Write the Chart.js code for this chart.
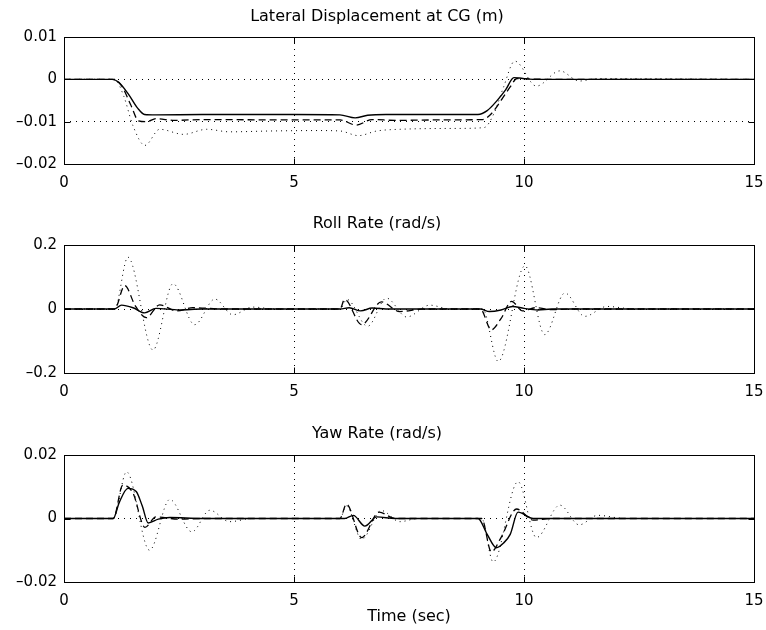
<!DOCTYPE html>
<html>
<head>
<meta charset="utf-8">
<script src="https://cdn.jsdelivr.net/npm/chart.js@4.4.1/dist/chart.umd.min.js"></script>
<style>
  body { margin: 0; background: #fff; }
  .panel { position: absolute; left: 0; width: 766px; height: 210px; }
</style>
</head>
<body>
<div class="panel" style="top:0"><canvas id="latChart" width="766" height="210"></canvas></div>
<div class="panel" style="top:210px"><canvas id="rollChart" width="766" height="210"></canvas></div>
<div class="panel" style="top:420px"><canvas id="yawChart" width="766" height="210"></canvas></div>
<script>
// tick labels
const xTicks = [0, 5, 10, 15];
const latTicks = [-0.02, -0.01, 0, 0.01];
const rollTicks = [-0.2, 0, 0.2];
const yawTicks = [-0.02, 0, 0.02];

// Lateral displacement at CG (m)
const latSolidT = [0, 1.05, 1.2, 1.4, 1.6, 1.75, 2.0, 3, 5, 6.0, 6.33, 6.6, 7, 8, 9.0, 9.2, 9.4, 9.6, 9.78, 9.9, 10.2, 11, 15];
const latSolid = [0, 0, -0.0008, -0.0035, -0.0068, -0.0083, -0.0084, -0.0083, -0.0083, -0.0084, -0.0091, -0.0085, -0.0083, -0.0083, -0.0083, -0.0074, -0.0052, -0.0025, 0.0004, 0.0003, 0, 0, 0];
const latDashT = [0, 1.08, 1.25, 1.45, 1.62, 1.8, 2.0, 2.4, 3, 5, 6.0, 6.35, 6.7, 7.2, 8, 9.1, 9.3, 9.5, 9.7, 9.85, 10.1, 10.5, 15];
const latDash = [0, 0, -0.0015, -0.006, -0.0098, -0.0100, -0.0093, -0.0097, -0.0095, -0.0096, -0.0096, -0.0108, -0.0095, -0.0097, -0.0096, -0.0095, -0.0080, -0.0050, -0.0018, 0.0002, 0.0001, 0, 0];
const latDotT = [0, 1.1, 1.3, 1.5, 1.76, 2.08, 2.6, 3.1, 3.6, 4.5, 5.5, 6.0, 6.4, 6.8, 7.3, 8.5, 9.13, 9.35, 9.55, 9.8, 10.27, 10.78, 11.2, 11.6, 15];
const latDot = [0, 0, -0.004, -0.011, -0.0156, -0.0118, -0.013, -0.0118, -0.0124, -0.0122, -0.0121, -0.0122, -0.0133, -0.0122, -0.0118, -0.0116, -0.0114, -0.008, -0.002, 0.0043, -0.0016, 0.002, -0.0004, 0.0002, 0];

// Roll rate (rad/s)
const rollSolidT = [0, 1.1, 1.25, 1.5, 1.75, 2.0, 2.5, 3, 6.0, 6.2, 6.45, 6.7, 7, 9.05, 9.25, 9.5, 9.75, 10.0, 10.3, 10.6, 15];
const rollSolid = [0, 0, 0.012, 0.004, -0.012, 0.002, -0.003, 0, 0, 0.004, -0.006, 0.003, 0, 0, -0.008, -0.003, 0.008, 0.002, -0.003, 0, 0];
const rollDashT = [0, 1.1, 1.32, 1.55, 1.79, 2.08, 2.45, 2.8, 3.5, 6.0, 6.1, 6.47, 6.9, 7.3, 7.8, 9.05, 9.29, 9.5, 9.73, 9.97, 10.25, 10.6, 11.0, 15];
const rollDash = [0, 0, 0.073, 0.01, -0.027, 0.013, -0.006, 0.004, 0, 0, 0.03, -0.049, 0.022, -0.008, 0, 0, -0.065, -0.03, 0.024, -0.006, 0.004, -0.002, 0, 0];
const rollDotT = [0, 1.1, 1.39, 1.935, 2.37, 2.84, 3.28, 3.67, 4.1, 4.6, 6.0, 6.15, 6.6, 7.01, 7.45, 7.95, 8.4, 9.1, 9.44, 10.02, 10.45, 10.89, 11.32, 11.8, 12.4, 15];
const rollDot = [0, 0, 0.162, -0.128, 0.079, -0.049, 0.031, -0.018, 0.006, 0, 0, 0.03, -0.054, 0.034, -0.025, 0.012, 0, 0, -0.164, 0.135, -0.08, 0.05, -0.023, 0.008, 0, 0];

// Yaw rate (rad/s)
const yawSolidT = [0, 1.07, 1.2, 1.39, 1.57, 1.7, 1.83, 2.05, 2.3, 3, 6.1, 6.29, 6.54, 6.8, 7.2, 9.0, 9.2, 9.4, 9.55, 9.7, 9.87, 10.2, 10.6, 15];
const yawSolid = [0, 0, 0.005, 0.0095, 0.0085, 0.004, -0.0014, -0.0002, 0.0003, 0, 0, 0.001, -0.0024, 0.0005, 0, 0, -0.005, -0.0092, -0.0078, -0.005, 0.002, 0, 0, 0];
const yawDashT = [0, 1.07, 1.28, 1.5, 1.76, 2.0, 2.5, 3, 6.0, 6.14, 6.47, 6.85, 7.2, 9.08, 9.29, 9.5, 9.84, 10.2, 10.6, 15];
const yawDash = [0, 0, 0.0105, 0.008, -0.0028, 0.0005, -0.0002, 0, 0, 0.0045, -0.006, 0.002, 0, 0, -0.0105, -0.006, 0.003, -0.0005, 0, 0];
const yawDotT = [0, 1.07, 1.36, 1.86, 2.3, 2.78, 3.17, 3.6, 4.1, 6.0, 6.14, 6.47, 6.9, 7.3, 7.7, 9.08, 9.33, 9.87, 10.27, 10.78, 11.2, 11.6, 12.2, 15];
const yawDot = [0, 0, 0.0147, -0.01, 0.006, -0.0042, 0.0026, -0.001, 0, 0, 0.004, -0.0066, 0.0025, -0.001, 0, 0, -0.0137, 0.0116, -0.006, 0.0042, -0.002, 0.001, 0, 0];

const FONT = 'DejaVu Sans';

function fmtTick(v) {
    if (Math.abs(v) < 1e-12) return '0';
    const s = parseFloat(Math.abs(v).toFixed(4)).toString();
    return (v < 0 ? '\u2013' : '') + s;
}

// box round the axes, with inward ticks on all four sides
const boxPlugin = {
    id: 'matlabBox',
    afterDatasetsDraw(chart) {
        const {ctx, chartArea: a, scales: {x, y}} = chart;
        const L = Math.round(a.left) + 0.5, R = Math.round(a.right) + 0.5;
        const T = Math.round(a.top) + 0.5, B = Math.round(a.bottom) + 0.5;
        ctx.save();
        ctx.strokeStyle = '#000';
        ctx.lineWidth = 1;
        ctx.strokeRect(L, T, R - L, B - T);
        ctx.beginPath();
        x.ticks.forEach(t => {
            const px = Math.round(x.getPixelForValue(t.value)) + 0.5;
            ctx.moveTo(px, B); ctx.lineTo(px, B - 6);
            ctx.moveTo(px, T); ctx.lineTo(px, T + 6);
        });
        y.ticks.forEach(t => {
            const py = Math.round(y.getPixelForValue(t.value)) + 0.5;
            ctx.moveTo(L, py); ctx.lineTo(L + 6, py);
            ctx.moveTo(R, py); ctx.lineTo(R - 6, py);
        });
        ctx.stroke();
        ctx.restore();
    }
};

function series(t, v, width, dash) {
    return {
        data: t.map((tt, i) => ({x: tt, y: v[i]})),
        borderColor: '#000',
        borderWidth: width,
        borderDash: dash,
        pointRadius: 0,
        fill: false,
        cubicInterpolationMode: 'monotone'
    };
}

function makeChart(id, title, datasets, yTicks, cfg) {
    return new Chart(document.getElementById(id), {
        type: 'line',
        data: {datasets: datasets},
        options: {
            responsive: false,
            animation: false,
            layout: {padding: {left: 0, right: 12, top: 0, bottom: 0}},
            plugins: {
                legend: {display: false},
                tooltip: {enabled: false},
                title: {
                    display: true,
                    text: title,
                    color: '#000',
                    font: {family: FONT, size: 16, weight: 'normal'},
                    padding: {top: cfg.titleTop, bottom: cfg.titleBottom}
                }
            },
            scales: {
                x: {
                    type: 'linear',
                    min: 0,
                    max: 15,
                    afterBuildTicks: s => { s.ticks = xTicks.map(v => ({value: v})); },
                    afterFit: s => { s.height = cfg.xHeight; s.paddingLeft = 0; s.paddingRight = 0; },
                    ticks: {
                        color: '#000',
                        font: {family: FONT, size: 15},
                        padding: 10,
                        maxRotation: 0,
                        autoSkip: false
                    },
                    grid: {color: '#000', lineWidth: 1, drawTicks: false},
                    border: {display: false, dash: [1, 5]},
                    title: {
                        display: !!cfg.xTitle,
                        text: cfg.xTitle || '',
                        color: '#000',
                        font: {family: FONT, size: 16},
                        padding: {top: 0, bottom: 4}
                    }
                },
                y: {
                    min: yTicks[0],
                    max: yTicks[yTicks.length - 1],
                    afterBuildTicks: s => { s.ticks = yTicks.map(v => ({value: v})); },
                    afterFit: s => { s.width = 64; },
                    ticks: {
                        color: '#000',
                        font: {family: FONT, size: 15},
                        padding: 7,
                        callback: v => fmtTick(v)
                    },
                    grid: {color: '#000', lineWidth: 1, drawTicks: false},
                    border: {display: false, dash: [1, 5]}
                }
            }
        },
        plugins: [boxPlugin]
    });
}

makeChart('latChart', 'Lateral Displacement at CG (m)', [
    series(latSolidT, latSolid, 1.4, []),
    series(latDashT, latDash, 1.3, [7, 4]),
    series(latDotT, latDot, 1, [1, 4])
], latTicks, {titleTop: 7, titleBottom: 10.8, xHeight: 46});

makeChart('rollChart', 'Roll Rate (rad/s)', [
    series(rollSolidT, rollSolid, 1.4, []),
    series(rollDashT, rollDash, 1.3, [7, 4]),
    series(rollDotT, rollDot, 1, [1, 4])
], rollTicks, {titleTop: 4.4, titleBottom: 11.4, xHeight: 47});

makeChart('yawChart', 'Yaw Rate (rad/s)', [
    series(yawSolidT, yawSolid, 1.4, []),
    series(yawDashT, yawDash, 1.3, [7, 4]),
    series(yawDotT, yawDot, 1, [1, 4])
], yawTicks, {titleTop: 4.4, titleBottom: 11.4, xHeight: 48, xTitle: 'Time (sec)'});
</script>
</body>
</html>
